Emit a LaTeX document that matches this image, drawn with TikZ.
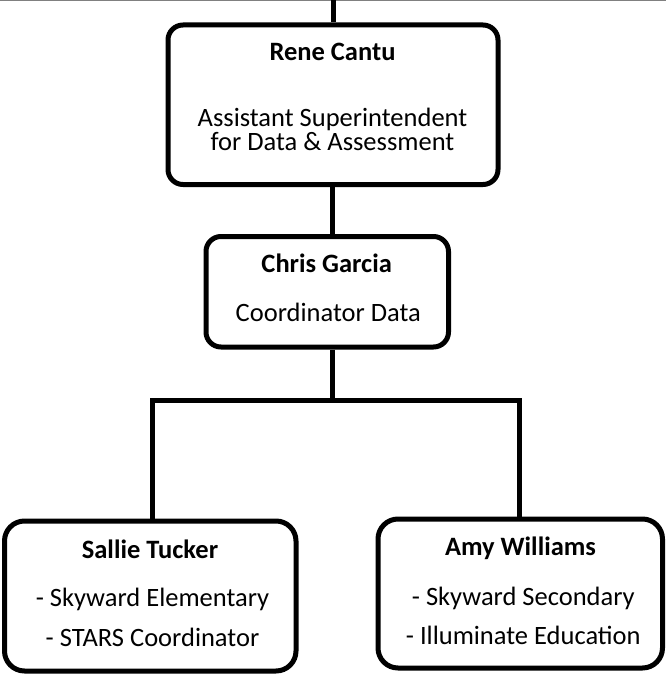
\documentclass[tikz,border=0pt]{standalone}
\usepackage{fontspec}
\setmainfont{Carlito}
\begin{document}
\begin{tikzpicture}[x=1pt,y=-1pt,
  orgbox/.style={draw=black, line width=5pt, fill=white, rectangle,
    inner sep=0pt, minimum width=#1},
  persontext/.style={anchor=base, font=\fontsize{26.5}{30}\selectfont\bfseries, inner sep=0pt},
  roletext/.style={anchor=base, font=\fontsize{26.5}{30}\selectfont, inner sep=0pt},
  link/.style={draw=black, line width=5pt}]
\useasboundingbox (0,0) rectangle (666,677);
% thin rule along the top edge
\draw[gray, line width=1.5pt] (0,0.75) -- (666,0.75);

% boxes
\node[orgbox=330pt, minimum height=159.5pt, rounded corners=15pt] (rene) at (333,104.75) {};
\node[orgbox=242.5pt, minimum height=110.5pt, rounded corners=15pt] (chris) at (327.25,291.75) {};
\node[orgbox=291.5pt, minimum height=150pt, rounded corners=20pt] (sallie) at (150.25,596) {};
\node[orgbox=284.5pt, minimum height=149pt, rounded corners=20pt] (amy) at (520.25,593.5) {};

% connectors
\coordinate (top) at (333,0);
\coordinate (bus) at (332,400.3);
\draw[link] (top) -- (rene.north);
\draw[link] (rene.south -| bus) -- (chris.north -| bus);
\draw[link] (chris.south -| bus) -- (bus);
\draw[link] ([xshift=1.75pt]sallie.north) |- (bus) -| ([xshift=-1.25pt]amy.north);

% texts
\node[persontext] (t1) at (332.5,61) {Rene Cantu};
\node[roletext] (t2) at (332.5,126) {Assistant Superintendent};
\node[roletext] (t3) at (332.5,150) {for Data \& Assessment};
\node[persontext] (t4) at (326.7,272.7) {Chris Garcia};
\node[roletext] (t5) at (328.3,321.7) {Coordinator Data};
\node[persontext] (t6) at (150,558.3) {Sallie Tucker};
\node[roletext] (t7) at (152.5,606.7) {- Skyward Elementary};
\node[roletext] (t8) at (152.5,646) {- STARS Coordinator};
\node[persontext] (t9) at (520.5,555) {Amy Williams};
\node[roletext] (t10) at (523.3,605) {- Skyward Secondary};
\node[roletext] (t11) at (523.3,644) {- Illuminate Education};
\end{tikzpicture}
\end{document}
